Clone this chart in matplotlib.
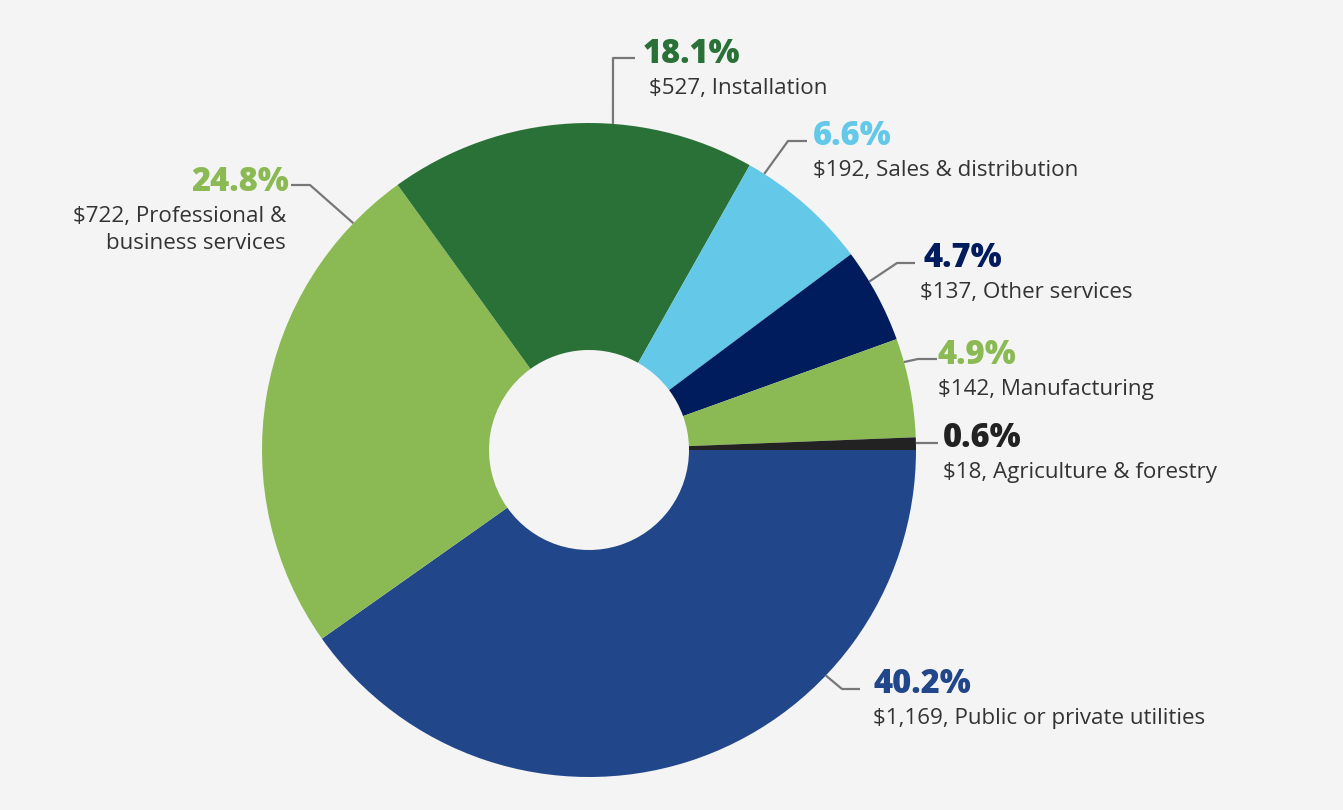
import numpy as np
import matplotlib
matplotlib.use("Agg")
import matplotlib.pyplot as plt

# ---- data ----
categories = ["Public or private utilities", "Professional &\nbusiness services", "Installation",
              "Sales & distribution", "Other services", "Manufacturing", "Agriculture & forestry"]
values = [1169, 722, 527, 192, 137, 142, 18]
pct_labels = ["40.2%", "24.8%", "18.1%", "6.6%", "4.7%", "4.9%", "0.6%"]
amount_labels = ["$1,169", "$722", "$527", "$192", "$137", "$142", "$18"]
colors = ["#21468A", "#8BBA55", "#2A7138", "#64C8E8", "#001C5C", "#8BBA55", "#222222"]

# ---- layout (pixel units, y measured from top) ----
W, H = 1343, 810
CX, CY, R, R_IN = 589, 450, 327, 100
BG = "#F4F4F4"

def py(y):
    return H - y

fig = plt.figure(figsize=(W / 100, H / 100), dpi=100, facecolor=BG)
ax = fig.add_axes([0, 0, 1, 1])
ax.set_facecolor(BG)

ax.pie(values, colors=colors, startangle=0, counterclock=False,
       center=(CX, py(CY)), radius=R,
       wedgeprops=dict(width=R - R_IN, linewidth=0))
ax.set_xlim(0, W)
ax.set_ylim(0, H)
ax.set_aspect("equal")
ax.axis("off")

# leader anchor angle (deg, ccw from east), elbow point, line end, text anchors, alignment
layout = [
    dict(ang=-43.6, elbow=(842, 689), end=(860, 689), txt=(874, 693), subx=873, ha="left"),
    dict(ang=136.1, elbow=(310, 185), end=(291, 185), txt=(289, 191), subx=286, ha="right"),
    dict(ang=85.8, elbow=(613, 58), end=(635, 58), txt=(643, 63), subx=649, ha="left"),
    dict(ang=57.6, elbow=(788, 141), end=(807, 141), txt=(813, 145), subx=813, ha="left"),
    dict(ang=31.0, elbow=(897, 263), end=(915, 263), txt=(923, 267), subx=920, ha="left"),
    dict(ang=15.6, elbow=(918, 359), end=(937, 359), txt=(938, 364), subx=938, ha="left"),
    dict(ang=1.2, elbow=(917, 443), end=(938, 443), txt=(943, 447), subx=943, ha="left"),
]

pct_font = dict(family=["Open Sans", "DejaVu Sans"], fontsize=23.5, fontweight="heavy")
sub_font = dict(family=["Open Sans", "DejaVu Sans"], fontsize=16.1, color="#333333")

for i, L in enumerate(layout):
    a = np.deg2rad(L["ang"])
    sx = CX + R * np.cos(a)
    sy = CY - R * np.sin(a)
    ex, ey = L["elbow"]
    fx, fy = L["end"]
    ax.plot([sx, ex, fx], [py(sy), py(ey), py(fy)], color="#777777", lw=1.6,
            solid_capstyle="butt", zorder=3)
    tx, ty = L["txt"]
    ax.text(tx, py(ty), pct_labels[i], ha=L["ha"], va="baseline", color=colors[i], **pct_font)
    sub = f"{amount_labels[i]}, {categories[i]}"
    for k, line in enumerate(sub.split("\n")):
        ax.text(L["subx"], py(ty + 31 + 27 * k), line, ha=L["ha"], va="baseline", **sub_font)

fig.savefig("out.png", dpi=100, facecolor=BG)
